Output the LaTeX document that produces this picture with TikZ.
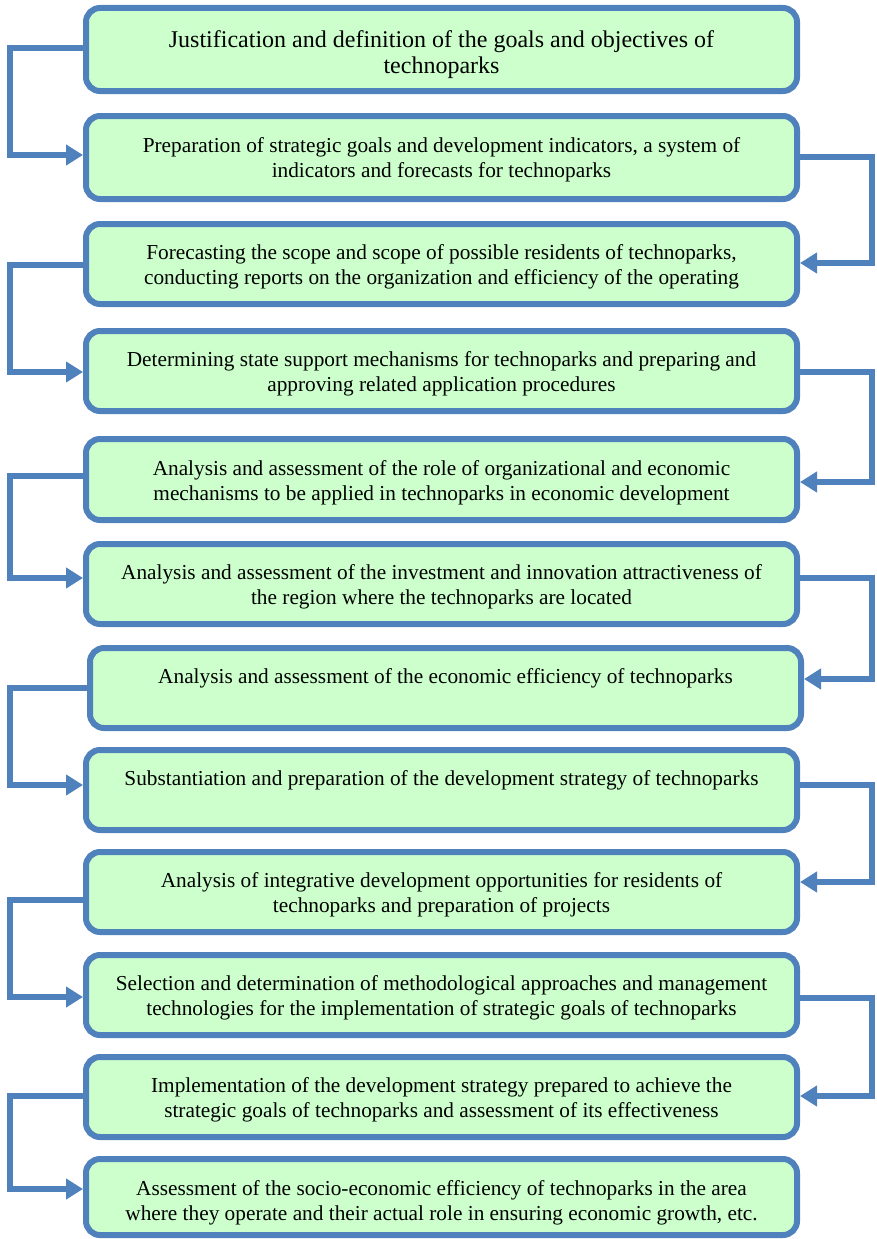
\documentclass[tikz,border=0pt]{standalone}
\usepackage{fontspec}
\setmainfont{Liberation Serif}
\newfontfamily\timesfont{Liberation Serif}
\usetikzlibrary{arrows.meta}
\definecolor{boxfill}{HTML}{CCFFCC}
\definecolor{boxline}{HTML}{4F81BD}
\newcommand\liftby[1]{\rule{0pt}{#1}}
\tikzset{
  stepbox/.style={draw=boxline, fill=boxfill, line width=6pt, rounded corners=14pt,
    minimum width=711pt, inner sep=0pt, align=center,
    font=\timesfont\fontsize{21.3}{25}\selectfont},
  conn/.style={draw=boxline, line width=5.5pt, -{Triangle[length=17pt,width=20pt]}}
}
\begin{document}
\begin{tikzpicture}[x=1pt,y=-1pt]
\useasboundingbox (0,0) rectangle (876,1239);
\node[stepbox, minimum height=83pt, font=\timesfont\fontsize{24}{26}\selectfont] (b1) at (441.5,49.5)
  {\liftby{27.5pt}Justification and definition of the goals and objectives of\\technoparks};
\node[stepbox, minimum height=83pt] (b2) at (441.5,157.5)
  {\liftby{19.5pt}Preparation of strategic goals and development indicators, a system of\\indicators and forecasts for technoparks};
\node[stepbox, minimum height=80pt] (b3) at (441.5,264)
  {\liftby{21.5pt}Forecasting the scope and scope of possible residents of technoparks,\\conducting reports on the organization and efficiency of the operating};
\node[stepbox, minimum height=80pt] (b4) at (441.5,371)
  {\liftby{21.5pt}Determining state support mechanisms for technoparks and preparing and\\approving related application procedures};
\node[stepbox, minimum height=81pt] (b5) at (441.5,479.5)
  {\liftby{21.5pt}Analysis and assessment of the role of organizational and economic\\mechanisms to be applied in technoparks in economic development};
\node[stepbox, minimum height=80pt] (b6) at (441.5,584)
  {\liftby{21.5pt}Analysis and assessment of the investment and innovation attractiveness of\\the region where the technoparks are located};
\node[stepbox, minimum height=80pt] (b7) at (445.5,688)
  {\liftby{16.5pt}Analysis and assessment of the economic efficiency of technoparks\\~};
\node[stepbox, minimum height=80pt] (b8) at (441.5,790)
  {\liftby{16.5pt}Substantiation and preparation of the development strategy of technoparks\\~};
\node[stepbox, minimum height=80pt] (b9) at (441.5,892)
  {\liftby{21.5pt}Analysis of integrative development opportunities for residents of\\technoparks and preparation of projects};
\node[stepbox, minimum height=80pt] (b10) at (441.5,995)
  {\liftby{21.5pt}Selection and determination of methodological approaches and management\\technologies for the implementation of strategic goals of technoparks};
\node[stepbox, minimum height=80pt] (b11) at (441.5,1097)
  {\liftby{21.5pt}Implementation of the development strategy prepared to achieve the\\strategic goals of technoparks and assessment of its effectiveness};
\node[stepbox, minimum height=76pt] (b12) at (441.5,1197)
  {\liftby{27pt}Assessment of the socio-economic efficiency of technoparks in the area\\where they operate and their actual role in ensuring economic growth, etc.};
% left-side connectors
\draw[conn] ([yshift=1.5pt]b1.west) -| (10,105) |- ([yshift=2.5pt]b2.west);
\draw[conn] ([yshift=-1pt]b3.west) -| (10,320) |- ([yshift=-1pt]b4.west);
\draw[conn] ([yshift=3.5pt]b5.west) -| (10,530) |- ([yshift=6pt]b6.west);
\draw[conn] (b7.west) -| (10,740) |- ([yshift=5pt]b8.west);
\draw[conn] ([yshift=-8pt]b9.west) -| (10,940) |- ([yshift=-2pt]b10.west);
\draw[conn] ([yshift=1pt]b11.west) -| (10,1150) |- ([yshift=8pt]b12.west);
% right-side connectors
\draw[conn] ([yshift=0.5pt]b2.east) -| (872,210) |- ([yshift=1pt]b3.east);
\draw[conn] ([yshift=-1pt]b4.east) -| (872,425) |- ([yshift=-2.5pt]b5.east);
\draw[conn] ([yshift=6pt]b6.east) -| (872,635) |- ([yshift=9pt]b7.east);
\draw[conn] ([yshift=5pt]b8.east) -| (872,840) |- ([yshift=10pt]b9.east);
\draw[conn] ([yshift=-3pt]b10.east) -| (872,1045) |- ([yshift=1pt]b11.east);
\end{tikzpicture}
\end{document}
